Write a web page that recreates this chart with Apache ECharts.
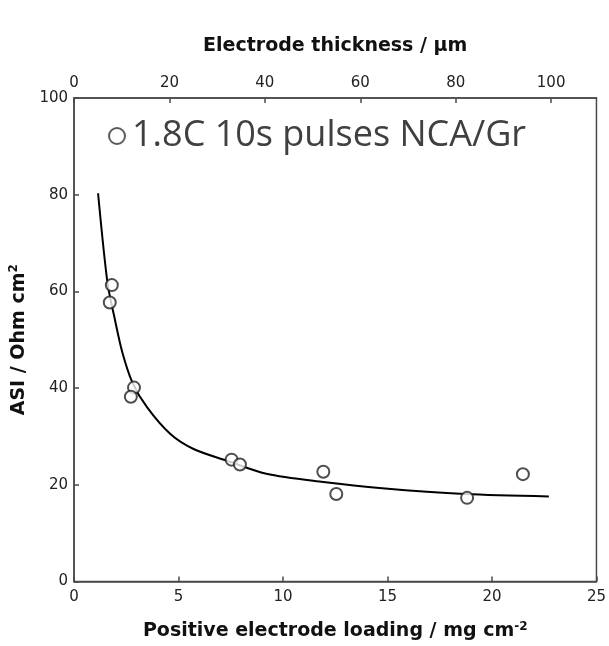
<!DOCTYPE html>
<html>
<head>
<meta charset="utf-8">
<script src="https://cdn.jsdelivr.net/npm/echarts@6/dist/echarts.min.js"></script>
<style>
  html, body { margin: 0; padding: 0; background: #fff; }
  #chart { width: 609px; height: 646px; }
</style>
</head>
<body>
<div id="chart"></div>
<script>
// measured points (loading mg cm-2, ASI Ohm cm2)
var pointX = [1.81, 1.71, 2.87, 2.72, 7.54, 7.94, 11.93, 12.55, 18.81, 21.48];
var pointY = [61.3, 57.7, 40.1, 38.2, 25.2, 24.2, 22.7, 18.1, 17.3, 22.2];
// fitted curve
var fitX = [1.15, 1.6, 1.92, 2.31, 2.79, 3.5, 4.61, 5.72, 7.3, 9.2, 11.93, 14.75, 18.7, 22.72];
var fitY = [80.3, 61.8, 54.9, 47.4, 41.2, 36, 30.5, 27.4, 25, 22.3, 20.6, 19.3, 18.1, 17.6];
var seriesName = '1.8C 10s pulses NCA/Gr';

function zip(xs, ys) {
  return xs.map(function (x, i) { return [x, ys[i]]; });
}

var axisFont = 'DejaVu Sans, sans-serif';
var lineStyle = { color: '#4a4a4a', width: 1.5 };
var titleStyle = {
  fontFamily: axisFont, fontWeight: 'bold', fontSize: 19, color: '#111',
  rich: {
    sup: { fontFamily: axisFont, fontWeight: 'bold', fontSize: 12, verticalAlign: 'top', lineHeight: 22, color: '#111' }
  }
};

var chart = echarts.init(document.getElementById('chart'));
chart.setOption({
  animation: false,
  backgroundColor: '#fff',
  grid: {
    left: 73, right: 10, top: 98, bottom: 63,
    show: true, borderColor: '#4a4a4a', borderWidth: 1.5
  },
  legend: {
    data: [seriesName],
    left: 103, top: 113,
    itemWidth: 16, itemHeight: 16,
    itemStyle: { color: '#333', borderColor: '#333', borderWidth: 2 },
    textStyle: { fontFamily: 'Open Sans', fontSize: 36, color: '#404040', padding: [0, 0, 0, 2] }
  },
  xAxis: [{
    type: 'value', position: 'bottom',
    min: 0, max: 25, interval: 5,
    name: 'Positive electrode loading / mg cm{sup|-2}',
    nameLocation: 'middle', nameGap: 39,
    nameTextStyle: titleStyle,
    axisLine: { lineStyle: lineStyle },
    axisTick: { inside: true, length: 5, lineStyle: lineStyle },
    axisLabel: { fontFamily: axisFont, fontSize: 15, color: '#222', margin: 8 },
    splitLine: { show: false }
  }, {
    type: 'value', position: 'top',
    min: 0, max: 109.5, interval: 20,
    name: 'Electrode thickness / \u00b5m',
    nameLocation: 'middle', nameGap: 42,
    nameTextStyle: titleStyle,
    axisLine: { lineStyle: lineStyle },
    axisTick: { inside: true, length: 5, lineStyle: lineStyle },
    axisLabel: { fontFamily: axisFont, fontSize: 15, color: '#222', margin: 7, showMaxLabel: false },
    splitLine: { show: false }
  }],
  yAxis: {
    type: 'value',
    min: 0, max: 100, interval: 20,
    name: 'ASI / Ohm cm{sup|2}',
    nameLocation: 'middle', nameGap: 38, nameRotate: 90,
    nameTextStyle: titleStyle,
    axisLine: { lineStyle: lineStyle },
    axisTick: { inside: true, length: 5, lineStyle: lineStyle },
    axisLabel: { fontFamily: axisFont, fontSize: 15, color: '#222', margin: 6 },
    splitLine: { show: false }
  },
  series: [{
    name: 'fit',
    type: 'line',
    xAxisIndex: 0,
    data: zip(fitX, fitY),
    showSymbol: false,
    smooth: 0.3,
    lineStyle: { color: '#000', width: 2 },
    z: 2
  }, {
    name: seriesName,
    type: 'scatter',
    xAxisIndex: 0,
    data: zip(pointX, pointY),
    symbol: 'emptyCircle',
    symbolSize: 12,
    itemStyle: { color: '#222', borderWidth: 1.5 },
    z: 3
  }]
});
</script>
</body>
</html>
